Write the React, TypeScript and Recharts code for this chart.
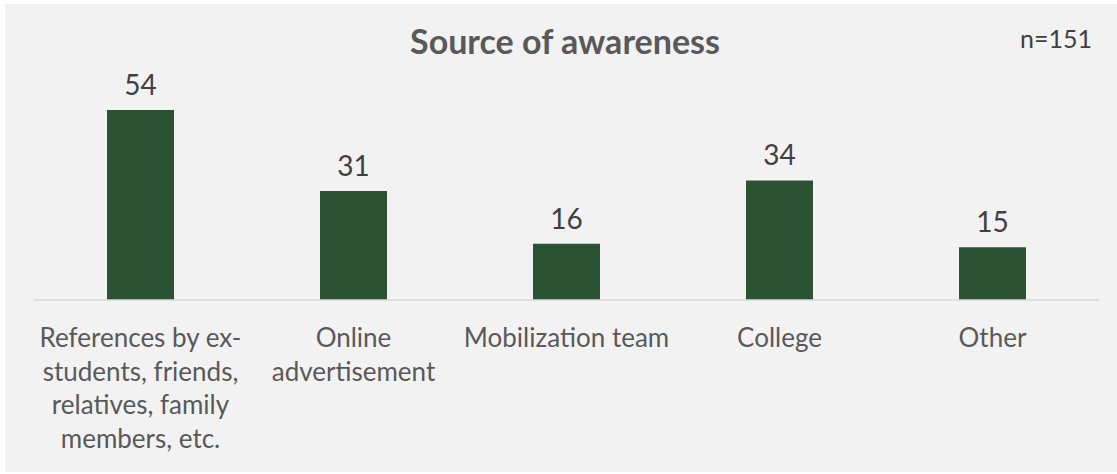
import { Bar, BarChart, LabelList, XAxis, YAxis } from "recharts";

const categories = [
  "References by ex-students, friends, relatives, family members, etc.",
  "Online advertisement",
  "Mobilization team",
  "College",
  "Other",
];
// how each category name breaks under the axis
const tickLines = [
  ["References by ex-", "students, friends,", "relatives, family", "members, etc."],
  ["Online", "advertisement"],
  ["Mobilization team"],
  ["College"],
  ["Other"],
];
const counts = [54, 31, 16, 34, 15];
const sampleSize = 151;

const GREEN = "#2C5234";
const FONT = "Lato, 'Open Sans', sans-serif";

const data = categories.map((name, i) => ({ name, count: counts[i] }));

function CategoryTick(props: any) {
  const { x, y, index } = props;
  const lines = tickLines[index] ?? [props.payload?.value];
  return (
    <text x={x} y={y} textAnchor="middle" fill="#595959" fontSize={26} fontFamily={FONT}>
      {lines.map((line: string, i: number) => (
        <tspan key={i} x={x} y={y + 47 + i * 33.5}>
          {line}
        </tspan>
      ))}
    </text>
  );
}

export default function App() {
  return (
    <div style={{ position: "absolute", left: 0, top: 0, width: 1117, height: 474, background: "#fff" }}>
      <div
        style={{
          position: "absolute",
          left: 5,
          top: 4,
          width: 1112,
          height: 468,
          background: "#F2F2F2",
          fontFamily: FONT,
        }}
      >
        <div
          style={{
            position: "absolute",
            left: 0,
            width: 1120,
            top: 17,
            textAlign: "center",
            fontSize: 34,
            fontWeight: 700,
            color: "#595959",
            lineHeight: "40px",
          }}
        >
          Source of awareness
        </div>
        <div
          style={{
            position: "absolute",
            right: 25,
            top: 19,
            fontSize: 25,
            color: "#404040",
            lineHeight: "30px",
          }}
        >
          n={sampleSize}
        </div>
        <BarChart
          width={1112}
          height={468}
          data={data}
          margin={{ top: 85, right: 18, left: 29, bottom: 0 }}
        >
          <XAxis
            dataKey="name"
            height={172}
            interval={0}
            tickLine={false}
            tickSize={0}
            tickMargin={0}
            axisLine={{ stroke: "#D9D9D9", strokeWidth: 1.5 }}
            tick={<CategoryTick />}
          />
          <YAxis hide domain={[0, 60]} />
          <Bar dataKey="count" fill={GREEN} barSize={67} isAnimationActive={false}>
            <LabelList
              dataKey="count"
              position="top"
              offset={15}
              fill="#404040"
              fontSize={28}
              fontFamily={FONT}
            />
          </Bar>
        </BarChart>
      </div>
    </div>
  );
}
